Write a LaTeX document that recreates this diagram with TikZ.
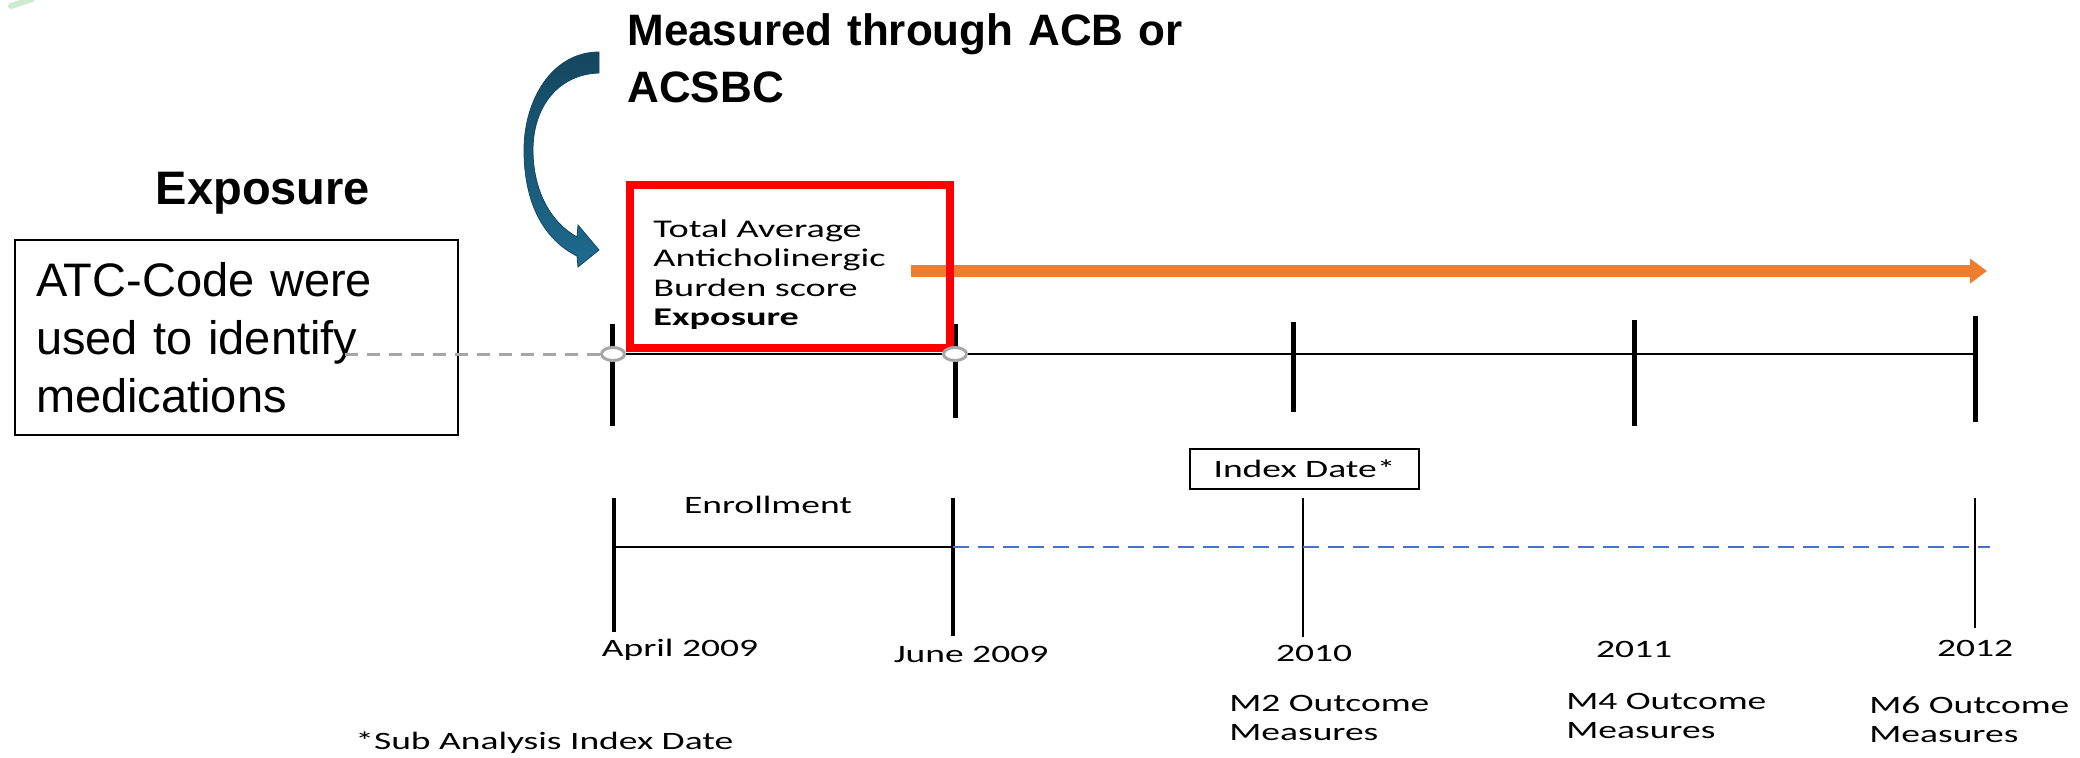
\documentclass[tikz,border=0pt]{standalone}
\usepackage{fontspec}
\setmainfont{Liberation Sans}
\newfontfamily\calfont[FakeStretch=1.5]{Carlito}
\usepackage{tikz}
\usetikzlibrary{arrows.meta,shapes.geometric}
\definecolor{ink}{HTML}{000000}
\definecolor{scorered}{HTML}{FF0000}
\definecolor{spanorange}{HTML}{ED7D31}
\definecolor{knotgray}{HTML}{A6A6A6}
\definecolor{followblue}{HTML}{4472C4}
\definecolor{arrowdark}{HTML}{15475F}
\definecolor{arrowlight}{HTML}{1E6A8E}
\definecolor{leafgreen}{HTML}{CDEBCF}
\tikzset{
  every node/.style={inner sep=0pt,text=ink},
  calib/.style={font=\calfont\fontsize{12.5}{14.5}\selectfont},
  heading/.style={font=\bfseries\fontsize{23.5}{28}\selectfont},
  headline/.style={font=\bfseries\fontsize{22}{28.5}\selectfont,align=left,text width=300pt},
  atcbox/.style={draw=ink,line width=1.25pt,font=\fontsize{23.5}{29}\selectfont,align=left,text width=200.5pt,inner xsep=10.5pt,minimum width=221.5pt,minimum height=97.5pt},
  scorebox/.style={draw=scorered,line width=4pt,minimum width=160pt,minimum height=81.5pt},
  scoretext/.style={font=\calfont\fontsize{12.75}{14.75}\selectfont,align=left,text width=135pt},
  datebox/.style={calib,draw=ink,line width=1pt,minimum width=114.5pt,minimum height=20pt},
  outcome/.style={calib,align=left,text width=110pt,anchor=base west},
  tick/.style={draw=ink,line width=2.5pt},
  lowtick/.style={draw=ink,line width=1.6pt},
  thintick/.style={draw=ink,line width=1.2pt},
  axis/.style={draw=ink,line width=1.35pt},
  enrol/.style={draw=ink,line width=1pt},
  knot/.style={ellipse,draw=knotgray,fill=white,line width=1.5pt,minimum width=11.5pt,minimum height=6.5pt},
  feed/.style={draw=knotgray,line width=1.5pt,dash pattern=on 6.5pt off 4.5pt},
  followup/.style={draw=followblue,line width=1pt,dash pattern=on 8pt off 4.5pt},
  spanarrow/.style={draw=spanorange,line width=6pt,-{Triangle[length=8.5pt,width=12pt]}},
  curlarrow/.style={top color=arrowdark,bottom color=arrowlight,draw=arrowdark,line width=0.4pt}
}

\begin{document}
\begin{tikzpicture}[x=0.5pt,y=-0.5pt]
  \useasboundingbox (0,0) rectangle (2080,757);
  \draw[leafgreen,line width=3pt,line cap=round] (11,6) -- (32,-1);

  \node[headline,anchor=base west] (measured) at (627,45) {Measured through ACB or\\ACSBC};
  \node[heading,anchor=base] (expo) at (263,204) {Exposure};
  \node[atcbox] (atc) at (236.5,337.5) {ATC-Code were\\used to identify\\medications};

  % upper time axis
  \foreach \n/\x/\t/\b in {a/612/324/426,b/955/324/418,c/1293/322/412,d/1634/320/426,e/1975/316/422}{
    \coordinate (top\n) at (\x,\t);
    \coordinate (bot\n) at (\x,\b);
    \coordinate (axis\n) at (\x,354);
  }
  \coordinate (feedstart) at (345,354);
  \draw[feed] (feedstart) -- (axisa);
  \draw[axis] (axisa) -- (axise);
  \foreach \n in {a,b,c,d,e} \draw[tick] (top\n) -- (bot\n);

  \coordinate (spanstart) at (911,271);
  \coordinate (spanend) at (1987,271);
  \draw[spanarrow] (spanstart) -- (spanend);

  \node[scorebox] (score) at (790,266.5) {};
  \node[scoretext,anchor=base west] (burden) at (653,237) {Total Average\\Anticholinergic\\Burden score\\\textbf{Exposure}};
  \node[knot] (enter) at (613,354) {};
  \node[knot] (leave) at (955,354) {};

  \shadedraw[curlarrow] (599,52) .. controls (552,52) and (524,100) .. (524,150)
    .. controls (524,205) and (545,240) .. (577,256) -- (578,267) -- (599,250) -- (578,225) -- (577,237)
    .. controls (550,222) and (533,190) .. (533,150)
    .. controls (533,105) and (560,74) .. (599,73) -- cycle;

  % lower time axis
  \node[datebox] (index) at (1304.5,469) {Index Date*};
  \foreach \n/\x/\b in {a/614/632,b/953/636,c/1303/637,e/1975/628}{
    \coordinate (low\n) at (\x,498);
    \coordinate (foot\n) at (\x,\b);
    \coordinate (mid\n) at (\x,547);
  }
  \draw[lowtick] (lowa) -- (foota);
  \draw[lowtick] (lowb) -- (footb);
  \draw[thintick] (lowc) -- (footc);
  \draw[thintick] (lowe) -- (foote);
  \coordinate (followend) at (1990,547);
  \draw[enrol] (mida) -- (midb);
  \draw[followup] (midb) -- (followend);

  \node[calib,anchor=base] (enrolment) at (768,513) {Enrollment};
  \node[calib,anchor=base] (april) at (680,656) {April 2009};
  \node[calib,anchor=base] (june) at (971,662) {June 2009};
  \node[calib,anchor=base] (y2010) at (1314,661) {2010};
  \node[calib,anchor=base] (y2011) at (1634,657) {2011};
  \node[calib,anchor=base] (y2012) at (1975,656) {2012};
  \node[outcome] (m2) at (1229,711) {M2 Outcome\\Measures};
  \node[outcome] (m4) at (1566,709) {M4 Outcome\\Measures};
  \node[outcome] (m6) at (1869,713) {M6 Outcome\\Measures};
  \node[calib,anchor=base west] (sub) at (355,749) {*Sub Analysis Index Date};
\end{tikzpicture}
\end{document}
